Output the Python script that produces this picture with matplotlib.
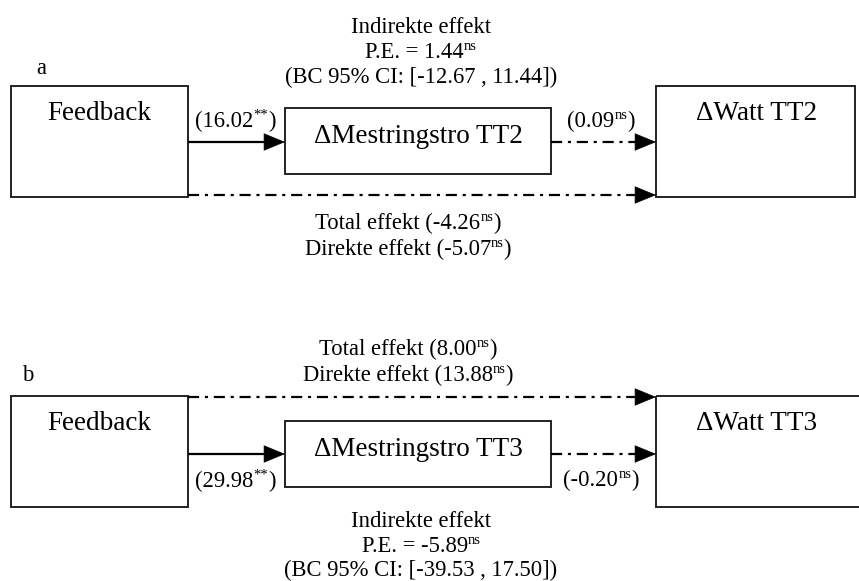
import matplotlib
matplotlib.use("Agg")
import matplotlib.pyplot as plt
from matplotlib.patches import Rectangle

plt.rcParams["font.family"] = ["Liberation Serif", "DejaVu Serif"]

# ---------------------------------------------------------------------------
# data (one entry per panel)
# ---------------------------------------------------------------------------
panel_labels = ["a", "b"]
predictor = ["Feedback", "Feedback"]
mediators = ["\u0394Mestringstro TT2", "\u0394Mestringstro TT3"]
outcomes = ["\u0394Watt TT2", "\u0394Watt TT3"]
path_a = ["16.02", "29.98"]
path_a_sig = ["**", "**"]
path_b = ["0.09", "-0.20"]
path_b_sig = ["ns", "ns"]
total_eff = ["-4.26", "8.00"]
total_sig = ["ns", "ns"]
direct_eff = ["-5.07", "13.88"]
direct_sig = ["ns", "ns"]
indirect_pe = ["1.44", "-5.89"]
indirect_sig = ["ns", "ns"]
ci_low = ["-12.67", "-39.53"]
ci_high = ["11.44", "17.50"]

BIG = 19.5
SMALL = 16.3
SUP = 10.5
SUP_RISE = 8
LW_BOX = 1.4
LW_ARR = 1.6
DASHDOT = (0, (5.0, 2.6, 1.4, 2.6))

fig = plt.figure(figsize=(8.59, 5.81), dpi=100)
ax = fig.add_axes([0, 0, 1, 1])
ax.set_xlim(0, 859)
ax.set_ylim(581, 0)
ax.axis("off")
renderer = fig.canvas.get_renderer()


def width_px(s, size):
    t = ax.text(0, 0, s, fontsize=size)
    w = t.get_window_extent(renderer).width
    t.remove()
    return w


def sup_text(xc, y, pre, sup, post=""):
    # base text + raised small superscript + trailing text, centred on xc
    w1 = width_px(pre, SMALL)
    w2 = width_px(sup, SUP)
    w3 = width_px(post, SMALL) if post else 0
    x = xc - (w1 + w2 + w3) / 2
    ax.text(x, y, pre, fontsize=SMALL, ha="left", va="baseline")
    ax.text(x + w1, y - SUP_RISE, sup, fontsize=SUP, ha="left", va="baseline")
    if post:
        ax.text(x + w1 + w2, y, post, fontsize=SMALL, ha="left", va="baseline")


def box(x0, y0, x1, y1):
    ax.add_patch(Rectangle((x0, y0), x1 - x0, y1 - y0, fill=False,
                           edgecolor="#222222", lw=LW_BOX))


def arrow(x0, x1, y, dashed):
    head = 14
    ls = DASHDOT if dashed else "-"
    ax.plot([x0, x1 - head + 1], [y, y], color="black", lw=LW_ARR,
            linestyle=ls, solid_capstyle="butt", dash_capstyle="butt")
    ax.annotate("", xy=(x1, y), xytext=(x1 - head, y),
                arrowprops=dict(arrowstyle="-|>,head_length=0.8,head_width=0.33",
                                color="black", lw=0.5, mutation_scale=18,
                                shrinkA=0, shrinkB=0))


# box geometry shared by both panels (pixel layout)
FB_X = (11, 188)
MED_X = (285, 551)
OUT_X = (656, 855)

for i, lab in enumerate(panel_labels):
    if i == 0:
        top, bot = 86, 197
        med_top, med_bot = 108, 174
        y_ab, y_dir = 142, 195
        lab_xy = (41, 74)
        a_lab_y, b_lab_y = 127, 127
        out_right = 855
        ind_y = [33, 58, 83]
        tot_y = [229, 255]
    else:
        top, bot = 396, 507
        med_top, med_bot = 421, 487
        y_ab, y_dir = 454, 397
        lab_xy = (28, 381)
        a_lab_y, b_lab_y = 487, 486
        out_right = 866
        ind_y = [527, 552, 576]
        tot_y = [355, 381]

    ax.text(*lab_xy, lab, fontsize=SMALL, ha="center", va="baseline")

    box(FB_X[0], top, FB_X[1], bot)
    box(MED_X[0], med_top, MED_X[1], med_bot)
    box(OUT_X[0], top, out_right, bot)

    ax.text(99.5, top + 34, predictor[i], fontsize=BIG, ha="center", va="baseline")
    ax.text(418, med_top + 35, mediators[i], fontsize=BIG, ha="center", va="baseline")
    ax.text(757, top + 34, outcomes[i], fontsize=BIG, ha="center", va="baseline")

    arrow(FB_X[1], MED_X[0], y_ab, dashed=False)
    arrow(MED_X[1], OUT_X[0], y_ab, dashed=True)
    arrow(FB_X[1], OUT_X[0], y_dir, dashed=True)

    sup_text(235.5, a_lab_y, "(" + path_a[i], path_a_sig[i], ")")
    sup_text(601, b_lab_y, "(" + path_b[i], path_b_sig[i], ")")

    ax.text(421, ind_y[0], "Indirekte effekt", fontsize=SMALL,
            ha="center", va="baseline")
    sup_text(421, ind_y[1], "P.E. = " + indirect_pe[i], indirect_sig[i])
    ax.text(421, ind_y[2], "(BC 95% CI: [" + ci_low[i] + " , " + ci_high[i] + "])",
            fontsize=SMALL, ha="center", va="baseline")

    sup_text(408, tot_y[0], "Total effekt (" + total_eff[i], total_sig[i], ")")
    sup_text(408, tot_y[1], "Direkte effekt (" + direct_eff[i], direct_sig[i], ")")

fig.savefig("out.png", dpi=100)
